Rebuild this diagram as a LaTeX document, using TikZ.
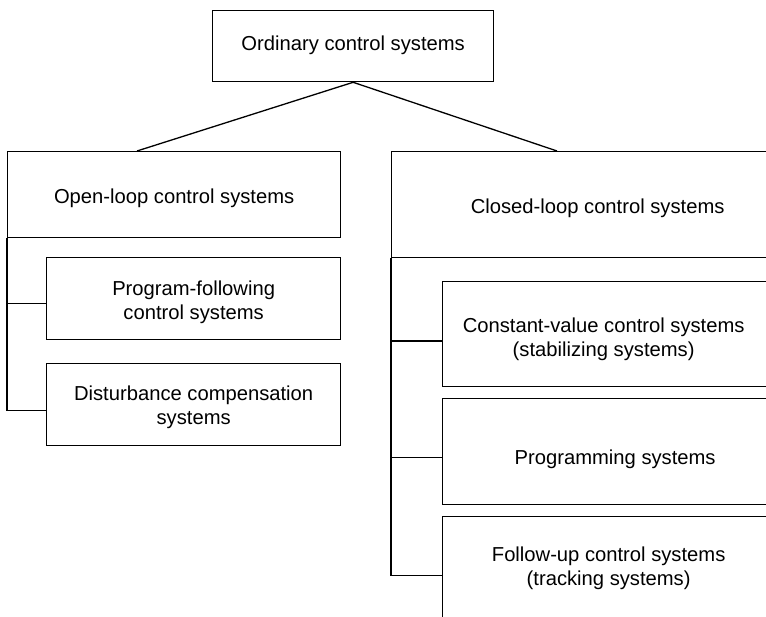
\documentclass[tikz,border=0pt]{standalone}
\usepackage{fontspec}
\setmainfont{Liberation Sans}
\begin{document}
\begin{tikzpicture}[x=1pt,y=-1pt,
  box/.style={draw=black, line width=1.3pt, rectangle, inner sep=0pt, anchor=north west},
  txt/.style={align=center, inner sep=0pt, font=\fontsize{20.2}{24}\selectfont},
  link/.style={draw=black, line width=1.3pt}]
\useasboundingbox (0,0) rectangle (766,617);
\clip (0,0) rectangle (766,617);
% boxes
\node[box, minimum width=281pt, minimum height=71pt] (top) at (212,10) {};
\node[box, minimum width=333pt, minimum height=86pt] (open) at (7,151) {};
\node[box, minimum width=294pt, minimum height=82pt] (pf) at (46,257) {};
\node[box, minimum width=294pt, minimum height=82pt] (ds) at (46,363) {};
\node[box, minimum width=412pt, minimum height=106pt] (closed) at (391,151) {};
\node[box, minimum width=352pt, minimum height=105pt] (cv) at (442,281) {};
\node[box, minimum width=352pt, minimum height=106pt] (pr) at (442,398) {};
\node[box, minimum width=352pt, minimum height=112pt] (fu) at (442,516) {};
% texts
\node[txt] (topt) at ([yshift=1pt]top.center) {Ordinary control systems};
\node[txt] (opent) at ([yshift=-4pt]open.center) {Open-loop control systems};
\node[txt] (pft) at ([yshift=-4pt]pf.center) {Program-following\\control systems};
\node[txt] (dst) at ([yshift=-3pt]ds.center) {Disturbance compensation\\systems};
\node[txt] (closedt) at ([yshift=-4pt]closed.center) {Closed-loop control systems};
\node[txt] (cvt) at ([xshift=-15pt,yshift=-5pt]cv.center) {Constant-value control systems\\(stabilizing systems)};
\node[txt] (prt) at ([xshift=-3.5pt,yshift=-8pt]pr.center) {Programming systems};
\node[txt] (fut) at ([xshift=-10pt,yshift=4.5pt]fu.center) {Follow-up control systems\\(tracking systems)};
% tree connectors
\draw[link] (top.south) -- ([xshift=130pt]open.north west);
\draw[link] (top.south) -- ([xshift=166pt]closed.north west);
% left bus
\draw[link] ([yshift=-6pt]ds.west) -| (open.south west);
\draw[link] ([yshift=-5pt]pf.west) -- ([yshift=-5pt]pf.west -| open.south west);
% right bus
\draw[link] ([yshift=-3pt]fu.west) -| (closed.south west);
\draw[link] ([yshift=-7pt]cv.west) -- ([yshift=-7pt]cv.west -| closed.south west);
\draw[link] ([yshift=-6pt]pr.west) -- ([yshift=-6pt]pr.west -| closed.south west);
\end{tikzpicture}
\end{document}
